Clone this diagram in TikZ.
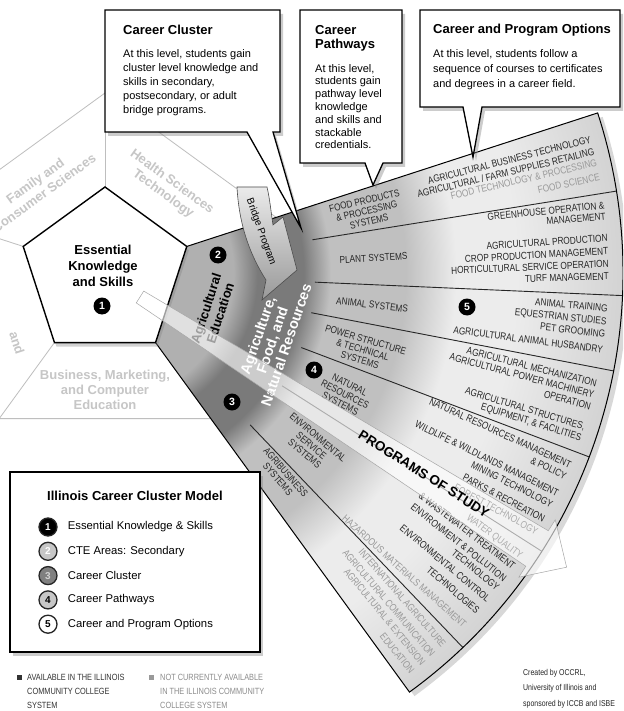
\documentclass[tikz,border=0pt]{standalone}
\usepackage{fontspec}
\setmainfont{Liberation Sans}
\newfontfamily\narrowfont[FakeStretch=0.82]{Liberation Sans}
\usepackage{tikz}
\usetikzlibrary{positioning, shadows}
\definecolor{ringgray}{RGB}{198,198,198}
\definecolor{ringline}{RGB}{190,190,190}
\definecolor{zonetwo}{RGB}{176,176,176}
\definecolor{zonethree}{RGB}{122,122,122}
\definecolor{zonefour}{RGB}{192,192,192}
\definecolor{zonefive}{RGB}{236,236,236}
\definecolor{zoneedge}{RGB}{210,210,210}
\colorlet{avail}{black!85}
\colorlet{notavail}{black!40}
\pgfdeclareradialshading{fanshade}{\pgfpoint{0bp}{0bp}}{color(0bp)=(zonetwo); color(128bp)=(zonetwo); color(152bp)=(zonethree); color(198bp)=(zonethree); color(225bp)=(zonefour); color(300bp)=(zonefour); color(350bp)=(zonefive); color(410bp)=(zonefive); color(520bp)=(zoneedge)}
\tikzstyle{callout}=[fill=white, draw=black, line width=1.3pt, drop shadow={shadow xshift=3pt, shadow yshift=-4pt, opacity=.4}]
\tikzstyle{boxtitle}=[anchor=west, inner sep=0pt, font=\bfseries\fontsize{13}{14}\selectfont]
\tikzstyle{boxtext}=[anchor=north west, align=left, inner sep=0pt, font=\fontsize{11}{14.2}\selectfont]
\tikzstyle{cteline}=[draw=ringline, line width=.8pt]
\tikzstyle{ctetext}=[align=center, inner sep=0pt, text=ringgray, font=\bfseries\fontsize{13}{15}\selectfont]
\tikzstyle{pentagon}=[fill=white, draw=black, line width=1.4pt, drop shadow={shadow xshift=2pt, shadow yshift=-4pt, opacity=.35}]
\tikzstyle{fanshadow}=[drop shadow={shadow xshift=5pt, shadow yshift=-4pt, opacity=.3}]
\tikzstyle{fanline}=[draw=black, line width=1pt]
\tikzstyle{fanray}=[draw=black!85, line width=.9pt]
\tikzstyle{num}=[circle, fill=black, text=white, minimum size=17pt, inner sep=0pt, font=\bfseries\fontsize{10.5}{10.5}\selectfont]
\tikzstyle{pathway}=[align=center, inner sep=0pt, text=avail, font=\narrowfont\fontsize{10}{10.5}\selectfont]
\tikzstyle{optline}=[anchor=east, inner sep=0pt, text height=7.2pt, text depth=0pt, font=\narrowfont\fontsize{10.1}{12}\selectfont]
\tikzstyle{band}=[fill=white, fill opacity=.62, draw=black!35, line width=.5pt]
\tikzstyle{study}=[inner sep=0pt, font=\bfseries\fontsize{13.5}{14}\selectfont]
\tikzstyle{bridge}=[top color=black!8, bottom color=black!40, draw=black!70, line width=.6pt]
\tikzstyle{legnum}=[circle, draw=black!85, line width=1.3pt, minimum size=18pt, inner sep=0pt, font=\bfseries\fontsize{10}{10}\selectfont]
\tikzstyle{legtext}=[inner sep=0pt, font=\fontsize{11.3}{12}\selectfont]
\tikzstyle{foot}=[anchor=north west, align=left, inner sep=0pt, font=\narrowfont\fontsize{9}{14}\selectfont]

\begin{document}
\begin{tikzpicture}[x=1pt, y=1pt]
    \useasboundingbox (0,0) rectangle (623,-711);
    \clip (0,0) rectangle (623,-711);
    \fill[white] (0,0) rectangle (623,-711);
    %Centre of the model and corners of both pentagons
    \coordinate (O) at (105,-273);
    \foreach \a in {18,90,162,234,306}{
        \coordinate (p\a) at ([shift={(\a:86)}]O);
        \coordinate (w\a) at ([shift={(\a:180)}]O);
    }

    %Outer ring of CTE areas
    \draw[cteline] (w18) -- (w90) -- (w162) -- (w234) -- (w306);
    \foreach \a in {90,162,234}
        \draw[cteline] (p\a) -- (w\a);
    \node[ctetext, rotate=36] (family) at (39.5,-187) {Family and\\Consumer Sciences};
    \node[ctetext, rotate=-36] (health) at (167.5,-188) {Health Sciences\\Technology};
    \node[ctetext] (business) at (105,-390) {Business, Marketing,\\and Computer\\Education};
    \node[ctetext, rotate=-72] (trade) at (17,-343) {and};

    %Fan of the cluster
    \path[fanshadow] (p18) -- ([shift={(18:518)}]O) arc[start angle=18, end angle=-54, radius=518pt] -- (p306) -- cycle;
    \begin{scope}
        \clip (p18) -- ([shift={(18:518)}]O) arc[start angle=18, end angle=-54, radius=518pt] -- (p306) -- cycle;
        \node[inner sep=0pt] (fanfill) at (O) {\pgfuseshading{fanshade}};
    \end{scope}
    \foreach \a in {9.1,-2.5,-10.9,-20.8,-32.5,-46.3}
        \draw[fanray] ([shift={(\a:210)}]O) -- ([shift={(\a:518)}]O);
    \draw[fanline] (p18) -- ([shift={(18:518)}]O) arc[start angle=18, end angle=-54, radius=518pt] -- (p306);

    %Essential knowledge pentagon
    \path[pentagon] (p90) -- (p162) -- (p234) -- (p306) -- (p18) -- cycle;
    \node[align=center, inner sep=0pt, font=\bfseries\fontsize{13}{16}\selectfont] (eks) at (103,-266) {Essential\\Knowledge\\and Skills};
    \node[num] (n1) at (102,-306) {1};

    %CTE area and cluster
    \node[align=center, inner sep=0pt, rotate=72, font=\bfseries\fontsize{13}{15}\selectfont] (agedu) at (213,-311) {Agricultural\\Education};
    \node[num] (n2) at (218,-255) {2};
    \node[align=center, inner sep=0pt, rotate=71, text=white, font=\bfseries\fontsize{14.5}{15}\selectfont] (afnr) at (272,-340) {Agriculture,\\Food, and\\Natural Resources};
    \node[num] (n3) at (232,-402) {3};
    \node[num] (n4) at (314,-370) {4};
    \node[num] (n5) at (467,-307) {5};

    %Pathways
    \foreach \a/\t [count=\i] in {13.3/{FOOD PRODUCTS\\\& PROCESSING\\SYSTEMS}, 3.2/PLANT SYSTEMS, -6.8/ANIMAL SYSTEMS, -16.6/{POWER STRUCTURE\\\& TECHNICAL\\SYSTEMS}, -26.8/{NATURAL\\RESOURCES\\SYSTEMS}, -39.9/{ENVIRONMENTAL\\SERVICE\\SYSTEMS}, -48.9/{AGRIBUSINESS\\SYSTEMS}}
        \node[pathway, rotate=\a] (pw\i) at ([shift={(\a:269)}]O) {\t};

    %Career and program options, turned half way to the middle of their pathway
    \foreach \a/\m/\t/\c [count=\i] in {
        15.4/13.2/AGRICULTURAL BUSINESS TECHNOLOGY/avail,
        13.95/13.2/{AGRICULTURAL / FARM SUPPLIES RETAILING}/avail,
        12.65/13.2/FOOD TECHNOLOGY \& PROCESSING/notavail,
        11.0/13.2/FOOD SCIENCE/notavail,
        7.75/3.8/GREENHOUSE OPERATION \&/avail,
        6.5/3.8/MANAGEMENT/avail,
        4.0/3.8/AGRICULTURAL PRODUCTION/avail,
        2.5/3.8/CROP PRODUCTION MANAGEMENT/avail,
        1.05/3.8/HORTICULTURAL SERVICE OPERATION/avail,
        -0.35/3.8/TURF MANAGEMENT/avail,
        -4.0/-6.4/ANIMAL TRAINING/avail,
        -5.5/-6.4/EQUESTRIAN STUDIES/avail,
        -6.95/-6.4/PET GROOMING/avail,
        -8.75/-6.4/AGRICULTURAL ANIMAL HUSBANDRY/avail,
        -12.65/-15.9/AGRICULTURAL MECHANIZATION/avail,
        -14.0/-15.9/AGRICULTURAL POWER MACHINERY/avail,
        -15.4/-15.9/OPERATION/avail,
        -17.75/-15.9/{AGRICULTURAL STRUCTURES,}/avail,
        -19.05/-15.9/{EQUIPMENT, \& FACILITIES}/avail,
        -22.4/-26.6/NATURAL RESOURCES MANAGEMENT/avail,
        -23.8/-26.6/\& POLICY/avail,
        -25.95/-26.6/WILDLIFE \& WILDLANDS MANAGEMENT/avail,
        -27.4/-26.6/MINING TECHNOLOGY/avail,
        -29.3/-26.6/PARKS \& RECREATION/avail,
        -30.9/-26.6/FOREST TECHNOLOGY/avail,
        -34.2/-39.3/WATER QUALITY/avail,
        -35.7/-39.3/\& WASTEWATER TREATMENT/avail,
        -37.4/-39.3/ENVIRONMENT \& POLLUTION/avail,
        -38.7/-39.3/TECHNOLOGY/avail,
        -40.4/-39.3/ENVIRONMENTAL CONTROL/avail,
        -42.2/-39.3/TECHNOLOGIES/avail,
        -44.4/-39.3/HAZARDOUS MATERIALS MANAGEMENT/notavail,
        -47.7/-50.1/INTERNATIONAL AGRICULTURE/notavail,
        -49.35/-50.1/AGRICULTURAL COMMUNICATION/notavail,
        -50.8/-50.1/AGRICULTURAL \& EXTENSION/notavail,
        -52.4/-50.1/EDUCATION/notavail}
        \node[optline, text=\c, rotate={(\a+\m)/2}] (opt\i) at ([shift={(\a:504)}]O) {\t};

    %Programs of study arrow
    \begin{scope}[shift={(140,-297)}, rotate=-32.35]
        \path[band] (0,7) -- (470,21) -- (470,34) -- (505,0) -- (470,-34) -- (470,-21) -- (0,-7) -- cycle;
    \end{scope}
    \node[study, rotate=-32.3] (study) at (424,-474) {PROGRAMS OF STUDY};

    %Bridge program arrow
    \shadedraw[bridge] (237,-187) -- (267,-187) .. controls (270,-200) and (271,-212) .. (273,-225) -- (283,-217) -- (297,-270) -- (262,-300) -- (266,-280) .. controls (250,-255) and (239,-225) .. cycle;
    \node[inner sep=0pt, rotate=-70, font=\fontsize{10}{10}\selectfont] (bridge) at (261,-232) {Bridge Program};

    %Callouts
    \path[callout] (105,-10) -- (280,-10) -- (280,-132) -- (273,-132) -- (301,-228) -- (247,-132) -- (105,-132) -- cycle;
    \node[boxtitle] (cctitle) at (123,-30) {Career Cluster};
    \node[boxtext] (cctext) at (123,-49) {At this level, students gain\\cluster level knowledge and\\skills in secondary,\\postsecondary, or adult\\bridge programs.};

    \path[callout] (300,-10) -- (402,-10) -- (402,-163) -- (383,-163) -- (373,-185) -- (365,-163) -- (300,-163) -- cycle;
    \node[boxtitle, anchor=north west, align=left] (cptitle) at (315,-25.3) {Career\\Pathways};
    \node[boxtext, font=\fontsize{11}{12.8}\selectfont] (cptext) at (315,-64) {At this level,\\students gain\\pathway level\\knowledge\\and skills and\\stackable\\credentials.};

    \path[callout] (420,-10) -- (620,-10) -- (620,-107) -- (482,-107) -- (473,-157) -- (463,-107) -- (420,-107) -- cycle;
    \node[boxtitle] (cotitle) at (433,-30) {Career and Program Options};
    \node[boxtext, font=\fontsize{11}{15}\selectfont] (cotext) at (433,-49) {At this level, students follow a\\sequence of courses to certificates\\and degrees in a career field.};

    %Legend
    \node[callout, minimum width=250pt, minimum height=180pt, inner sep=0pt] (legend) at (135,-562) {};
    \node[boxtitle, below=20pt of legend.north] (legtitle) {Illinois Career Cluster Model};
    \node[legnum, fill=black, text=white] (l1) at (48,-527) {1};
    \node[legnum, fill=black!22, text=white, below=5pt of l1] (l2) {2};
    \node[legnum, fill=black!50, text=black!18, below=5pt of l2] (l3) {3};
    \node[legnum, fill=black!22, text=black, below=5pt of l3] (l4) {4};
    \node[legnum, fill=white, text=black, below=5pt of l4] (l5) {5};
    \node[legtext, right=10pt of l1] (t1) {Essential Knowledge \& Skills};
    \node[legtext, right=10pt of l2] (t2) {CTE Areas: Secondary};
    \node[legtext, right=10pt of l3] (t3) {Career Cluster};
    \node[legtext, right=10pt of l4] (t4) {Career Pathways};
    \node[legtext, right=10pt of l5] (t5) {Career and Program Options};

    %Availability key and credits
    \node[fill=black!80, minimum size=5pt, inner sep=0pt] (sq1) at (19,-677) {};
    \node[foot, text=black!80] (foot1) at (27,-673.8) {AVAILABLE IN THE ILLINOIS\\COMMUNITY COLLEGE\\SYSTEM};
    \node[fill=black!40, minimum size=5pt, inner sep=0pt] (sq2) at (151,-677) {};
    \node[foot, text=black!45] (foot2) at (160,-673.8) {NOT CURRENTLY AVAILABLE\\IN THE ILLINOIS COMMUNITY\\COLLEGE SYSTEM};
    \node[foot, text=black!85, font=\narrowfont\fontsize{8.5}{15.5}\selectfont] (credit) at (523,-668.8) {Created by OCCRL,\\University of Illinois and\\sponsored by ICCB and ISBE};
\end{tikzpicture}
\end{document}
